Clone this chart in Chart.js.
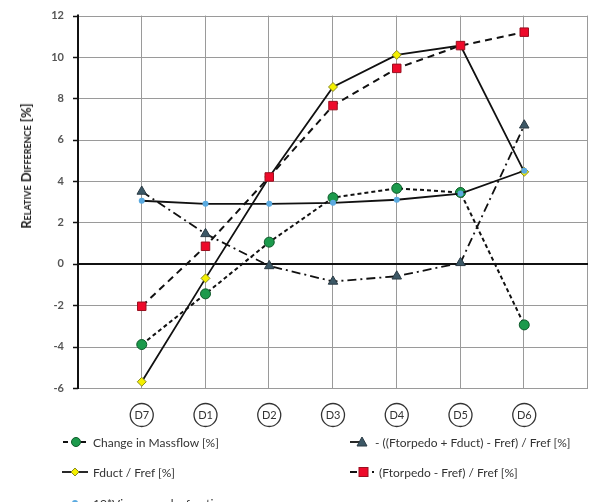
<!DOCTYPE html>
<html><head><meta charset="utf-8">
<script src="https://cdn.jsdelivr.net/npm/chart.js@4"></script>
<style>
html,body{margin:0;padding:0;background:#fff;overflow:hidden}
#wrap{position:relative;width:609px;height:502px;overflow:hidden;font-family:Lato,"Open Sans",sans-serif}
#c{position:absolute;left:0;top:0}
#ytitle{position:absolute;left:26px;top:166px;transform:translate(-50%,-50%) rotate(-90deg);white-space:nowrap;font-weight:bold;font-variant:small-caps;font-size:13px;color:#222}
.lg{position:absolute;white-space:nowrap;font-size:12px;color:#333;display:flex;align-items:center}
.lg svg{margin-right:5px}
</style></head><body>
<div id="wrap">
<canvas id="c" width="609" height="502"></canvas>
<div id="ytitle">Relative Difference [%]</div>
<div id="legend"></div>
</div>
<script>
const categories = ['D7','D1','D2','D3','D4','D5','D6'];
const massflow = [-3.9, -1.45, 1.05, 3.2, 3.65, 3.45, -2.95];
const fduct = [-5.7, -0.7, 4.2, 8.55, 10.1, 10.55, 4.45];
const ftorpedo = [-2.05, 0.85, 4.2, 7.65, 9.45, 10.55, 11.2];
const combined = [3.5, 1.45, -0.1, -0.85, -0.6, 0.05, 6.7];
const wake = [3.05, 2.9, 2.9, 2.95, 3.1, 3.4, 4.5];
const yTicks = [-6,-4,-2,0,2,4,6,8,10,12];
const legendNames = ['Change in Massflow [%]','Fduct / Fref [%]','10*Viscous wake fraction','- ((Ftorpedo + Fduct) - Fref) / Fref [%]','(Ftorpedo - Fref) / Fref [%]'];

const pts = arr => arr.map((v,i)=>({x:i+1,y:v}));

const datasets = [
 {label:legendNames[3],data:pts(combined),borderColor:'#111',borderWidth:1.8,borderDash:[9,4,2,4],pointStyle:'triangle',pointRadius:5.5,pointBackgroundColor:'#3c5866',pointBorderColor:'#2a3a44',pointBorderWidth:1},
 {label:legendNames[2],data:pts(wake),borderColor:'#111',borderWidth:1.8,pointStyle:'circle',pointRadius:3,pointBackgroundColor:'#5aaae0',pointBorderColor:'#5aaae0',pointBorderWidth:0},
 {label:legendNames[4],data:pts(ftorpedo),borderColor:'#111',borderWidth:2,borderDash:[7,5],pointStyle:'rect',pointRadius:6,pointBackgroundColor:'#ee0a2a',pointBorderColor:'#9a1020',pointBorderWidth:1},
 {label:legendNames[1],data:pts(fduct),borderColor:'#111',borderWidth:1.8,pointStyle:'rectRot',pointRadius:4.5,pointBackgroundColor:'#f4f000',pointBorderColor:'#8a8a20',pointBorderWidth:1},
 {label:legendNames[0],data:pts(massflow),borderColor:'#111',borderWidth:2,borderDash:[4,3],pointStyle:'circle',pointRadius:5,pointBackgroundColor:'#1c9a4c',pointBorderColor:'#0e5a2a',pointBorderWidth:1}
];

const gridPlugin = {
 id:'gridlines',
 beforeDatasetsDraw(chart){
  const xs = chart.scales.x, ys = chart.scales.y, ctx = chart.ctx, a = chart.chartArea;
  ctx.save();
  ctx.strokeStyle='#9a9a9a'; ctx.lineWidth=1; ctx.setLineDash([]);
  [1,2,3,4,5,6,7,8].forEach(v=>{
   const px = Math.round(xs.getPixelForValue(v))-0.5;
   ctx.beginPath(); ctx.moveTo(px,a.top); ctx.lineTo(px,a.bottom); ctx.stroke();
  });
  yTicks.forEach(v=>{
   if(v===0) return;
   const py = Math.round(ys.getPixelForValue(v))+0.5;
   ctx.beginPath(); ctx.moveTo(a.left,py); ctx.lineTo(a.right,py); ctx.stroke();
  });
  // tick marks
  ctx.strokeStyle='#111'; ctx.lineWidth=1.5;
  yTicks.forEach(v=>{
   const py = Math.round(ys.getPixelForValue(v))+0.5;
   ctx.beginPath(); ctx.moveTo(a.left-5,py); ctx.lineTo(a.left,py); ctx.stroke();
  });
  // zero line
  ctx.strokeStyle='#111'; ctx.lineWidth=2;
  const pz = Math.round(ys.getPixelForValue(0));
  ctx.beginPath(); ctx.moveTo(a.left,pz); ctx.lineTo(a.right,pz); ctx.stroke();
  // left axis
  ctx.beginPath(); ctx.moveTo(a.left,a.top-1); ctx.lineTo(a.left,a.bottom+1); ctx.stroke();
  ctx.restore();
 },
 afterDraw(chart){
  const x = chart.scales.x, ctx = chart.ctx;
  ctx.save();
  ctx.strokeStyle='#333'; ctx.lineWidth=1.3;
  categories.forEach((c,i)=>{
   const px = x.getPixelForValue(i+1);
   ctx.beginPath(); ctx.arc(px,415,11.5,0,Math.PI*2); ctx.stroke();
  });
  ctx.restore();
 }
};

new Chart(document.getElementById('c'),{
 type:'line',
 data:{datasets},
 options:{
  responsive:false,animation:false,
  layout:{padding:{top:15,left:0,right:1,bottom:0}},
  plugins:{legend:{display:false},tooltip:{enabled:false}},
  scales:{
   x:{type:'linear',min:0,max:8,
      afterFit(s){s.height=114;},
      afterBuildTicks(s){s.ticks=[0,1,2,3,4,5,6,7,8].map(v=>({value:v}));},
      ticks:{autoSkip:false,maxRotation:0,padding:21,color:'#333',font:{family:'Lato',size:11},
        callback:(v)=>categories[v-1]||''},
      grid:{display:false,drawTicks:false},
      border:{display:false}},
   y:{min:-6,max:12,
      afterFit(s){s.width=78;},
      afterBuildTicks(s){s.ticks=yTicks.map(v=>({value:v}));},
      ticks:{padding:9,color:'#555',font:{family:'Lato',size:11,weight:'bold'}},
      grid:{display:false,drawTicks:true,tickLength:5},
      border:{display:false}}
  }
 },
 plugins:[gridPlugin]
});

// HTML legend
function sym(type){
 let s='';
 if(type===0){ s='<svg width="26" height="12"><line x1="1" y1="6" x2="25" y2="6" stroke="#111" stroke-width="2" stroke-dasharray="5,4"/><circle cx="14" cy="6" r="4.5" fill="#1c9a4c" stroke="#0e5a2a"/></svg>'; }
 if(type===1){ s='<svg width="26" height="12"><line x1="0" y1="6" x2="26" y2="6" stroke="#111" stroke-width="1.8"/><polygon points="13,2 17,6 13,10 9,6" fill="#f4f000" stroke="#8a8a20"/></svg>'; }
 if(type===2){ s='<svg width="26" height="12"><line x1="0" y1="6" x2="26" y2="6" stroke="#5aaae0" stroke-width="1.8"/><circle cx="13" cy="6" r="3" fill="#5aaae0"/></svg>'; }
 if(type===3){ s='<svg width="20" height="12"><line x1="0" y1="6" x2="12" y2="6" stroke="#111" stroke-width="1.8"/><polygon points="12,1 17,10 7,10" fill="#3c5866" stroke="#2a3a44"/></svg>'; }
 if(type===4){ s='<svg width="24" height="12"><line x1="0" y1="6" x2="24" y2="6" stroke="#111" stroke-width="2" stroke-dasharray="7,4"/><rect x="9" y="1.5" width="9" height="9" fill="#ee0a2a" stroke="#9a1020"/></svg>'; }
 return s;
}
const lgPos = [[62,442,0],[62,472,1],[62,503,2],[350,442,3],[350,472,4]];
const lg = document.getElementById('legend');
lgPos.forEach(([x,y,t])=>{
 const d=document.createElement('div'); d.className='lg';
 d.style.left=x+'px'; d.style.top=(y-8)+'px'; d.style.height='16px';
 d.innerHTML=sym(t)+'<span>'+legendNames[t]+'</span>';
 lg.appendChild(d);
});
</script>
</body></html>
